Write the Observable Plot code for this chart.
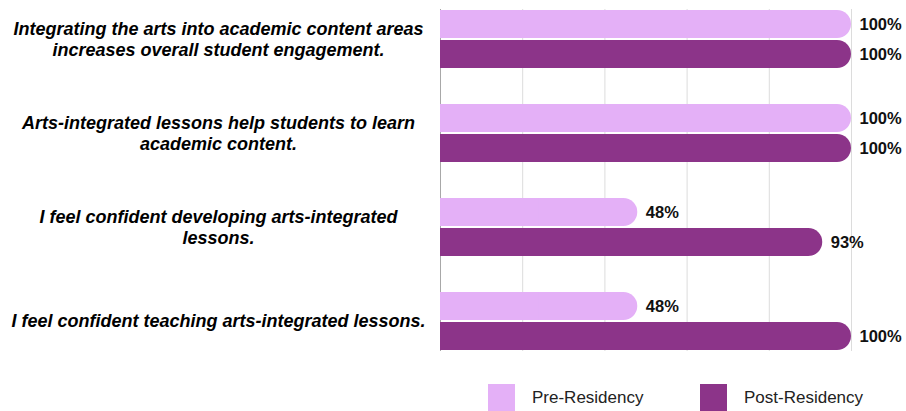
<!DOCTYPE html>
<html>
<head>
<meta charset="utf-8">
<script src="https://cdn.jsdelivr.net/npm/d3@7"></script>
<script src="https://cdn.jsdelivr.net/npm/@observablehq/plot@0.6"></script>
<style>
  html, body { margin: 0; padding: 0; background: #fff; }
  #wrap { position: relative; width: 906px; height: 411px; overflow: hidden; font-family: "Liberation Sans", Arial, sans-serif; }
  #legend { position: absolute; left: 0; top: 370px; width: 906px; height: 41px; }
  .sw { position: absolute; top: 14px; width: 27px; height: 27px; }
  .lt { position: absolute; top: 19px; font-size: 17px; color: #222; line-height: 1; }
</style>
</head>
<body>
<div id="wrap">
  <div id="chart"></div>
  <div id="legend"></div>
</div>
<script>
const questions = [
  "Integrating the arts into academic content areas\nincreases overall student engagement.",
  "Arts-integrated lessons help students to learn\nacademic content.",
  "I feel confident developing arts-integrated\nlessons.",
  "I feel confident teaching arts-integrated lessons."
];
const series = ["Pre-Residency", "Post-Residency"];
const preValues = [100, 100, 48, 48];
const postValues = [100, 100, 93, 100];
const colors = ["#E4B0F7", "#8C3489"];
const xTicks = [0, 20, 40, 60, 80, 100];

const pre = questions.map((q, i) => ({question: q, value: preValues[i]}));
const post = questions.map((q, i) => ({question: q, value: postValues[i]}));

const fmt = d => `${d.value}%`;
const barOpts = (data, color, top) => ([
  Plot.barX(data, {x1: 0, x2: "value", y: "question", fill: color, rx: 14,
    insetTop: top ? 0 : 30, insetBottom: top ? 30 : 0}),
  Plot.barX(data, {x1: 0, x2: d => d.value / 2, y: "question", fill: color,
    insetTop: top ? 0 : 30, insetBottom: top ? 30 : 0}),
  Plot.text(data, {x: "value", y: "question", text: fmt, dx: 8, dy: top ? -15 : 15,
    textAnchor: "start", fontSize: 16.5, fontWeight: "bold", fill: "#111"})
]);

const chart = Plot.plot({
  width: 906,
  height: 370,
  marginLeft: 440,
  marginRight: 55,
  marginTop: 9,
  marginBottom: 19,
  style: {fontFamily: "'Liberation Sans', Arial, sans-serif", background: "#fff"},
  x: {domain: [0, 100], axis: null},
  y: {domain: questions, paddingInner: 0.379, paddingOuter: 0, axis: null},
  marks: [
    Plot.ruleX(xTicks.filter(d => d > 0), {stroke: "#dcdcdc", strokeWidth: 1}),
    Plot.ruleX([0], {stroke: "#a8a8a8", strokeWidth: 1}),
    ...barOpts(pre, colors[0], true),
    ...barOpts(post, colors[1], false),
    Plot.text(questions, {y: d => d, text: d => d, frameAnchor: "left", dx: -222, dy: -1,
      textAnchor: "middle", fontSize: 18, fontWeight: "bold", fontStyle: "italic",
      lineHeight: 1.2, fill: "#000"})
  ]
});
document.getElementById("chart").appendChild(chart);

const legend = document.getElementById("legend");
const legendX = [[488, 532], [700, 744]];
series.forEach((s, i) => {
  const sw = document.createElement("div");
  sw.className = "sw";
  sw.style.left = legendX[i][0] + "px";
  sw.style.background = colors[i];
  legend.appendChild(sw);
  const t = document.createElement("div");
  t.className = "lt";
  t.style.left = legendX[i][1] + "px";
  t.textContent = s;
  legend.appendChild(t);
});
</script>
</body>
</html>
